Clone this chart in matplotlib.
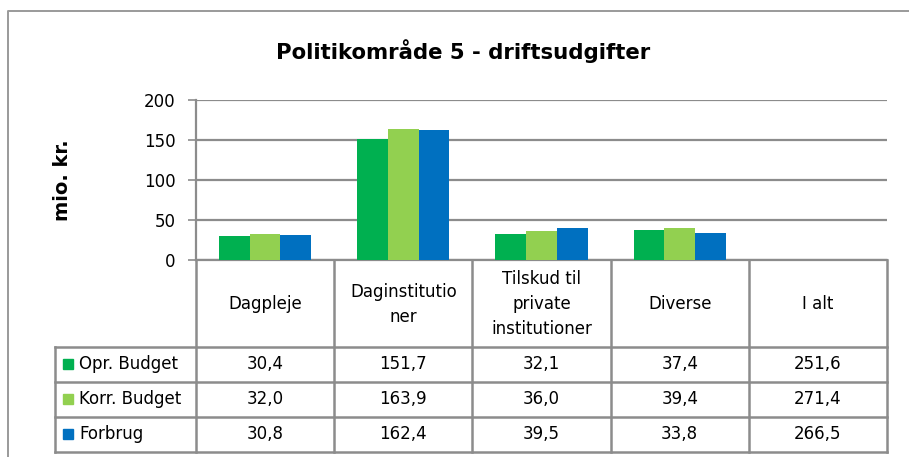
import matplotlib
matplotlib.use("Agg")
import matplotlib.pyplot as plt
import numpy as np

# ------------------ data ------------------
categories = ["Dagpleje", "Daginstitutio\nner", "Tilskud til\nprivate\ninstitutioner",
              "Diverse", "I alt"]
series_names = ["Opr. Budget", "Korr. Budget", "Forbrug"]
opr_budget = [30.4, 151.7, 32.1, 37.4, 251.6]
korr_budget = [32.0, 163.9, 36.0, 39.4, 271.4]
forbrug = [30.8, 162.4, 39.5, 33.8, 266.5]
colors = ["#00B050", "#92D050", "#0070C0"]
n_plotted = 4  # "I alt" only appears in the table

W, H = 909, 457
GRID = "#8c8c8c"

fig = plt.figure(figsize=(W / 100, H / 100), dpi=100)

# plot area in pixel coords
left, right, top, bottom = 196, 887, 100, 260
ax = fig.add_axes([left / W, 1 - bottom / H, (right - left) / W, (bottom - top) / H])

values = [opr_budget, korr_budget, forbrug]
x = np.arange(len(categories))
bw = 1 / 4.5
for i, (vals, col) in enumerate(zip(values, colors)):
    ax.bar(x[:n_plotted] + (i - 1) * bw, vals[:n_plotted], width=bw, color=col,
           edgecolor="none", zorder=3)

ax.set_xlim(-0.5, len(categories) - 0.5)
ax.set_ylim(0, 200)
ax.set_yticks([0, 50, 100, 150, 200])
ax.set_xticks([])
ax.grid(axis="y", color=GRID, linewidth=1.6, zorder=0)
for s in ["top", "right"]:
    ax.spines[s].set_visible(False)
for s in ["left", "bottom"]:
    ax.spines[s].set_color(GRID)
    ax.spines[s].set_linewidth(1.6)
ax.tick_params(axis="y", length=5.8, width=1.2, color=GRID, pad=9, labelsize=12,
               labelcolor="black")
ax.set_facecolor("none")

# ------------------ overlay for frame, title, table ------------------
ov = fig.add_axes([0, 0, 1, 1], zorder=-1)
ov.set_xlim(0, W)
ov.set_ylim(H, 0)
ov.axis("off")

# outer chart frame (runs off right/bottom edge)
ov.plot([8, 8, W + 5], [H + 5, 11, 11], color="#9a9a9a", lw=1.4, clip_on=False)

ov.text(463, 51, "Politikområde 5 - driftsudgifter", ha="center", va="center",
        fontsize=15.3, fontweight="bold")
ov.text(62, 180, "mio. kr.", ha="center", va="center", rotation=90,
        fontsize=14, fontweight="bold")

# data table
cw = (right - left) / len(categories)
col_edges = [left + k * cw for k in range(len(categories) + 1)]
row_edges = [bottom, 346.5, 381.5, 416.5, 451.5]
leg_left = 55
lw = 1.8

for xe in col_edges:
    ov.plot([xe, xe], [bottom, row_edges[-1]], color=GRID, lw=lw)
ov.plot([leg_left, leg_left], [row_edges[1], row_edges[-1]], color=GRID, lw=lw)
for ye in row_edges[1:]:
    ov.plot([leg_left, right], [ye, ye], color=GRID, lw=lw)

for k, cat in enumerate(categories):
    ov.text((col_edges[k] + col_edges[k + 1]) / 2, (row_edges[0] + row_edges[1]) / 2 + 1,
            cat, ha="center", va="center", fontsize=12, linespacing=1.5)

for r, (name, vals, col) in enumerate(zip(series_names, values, colors)):
    yc = (row_edges[r + 1] + row_edges[r + 2]) / 2
    ov.add_patch(plt.Rectangle((63, yc - 5), 10, 10, color=col))
    ov.text(79, yc, name, ha="left", va="center", fontsize=12)
    for k, v in enumerate(vals):
        ov.text((col_edges[k] + col_edges[k + 1]) / 2, yc, f"{v:.1f}".replace(".", ","),
                ha="center", va="center", fontsize=12)

fig.savefig("out.png", dpi=100)
